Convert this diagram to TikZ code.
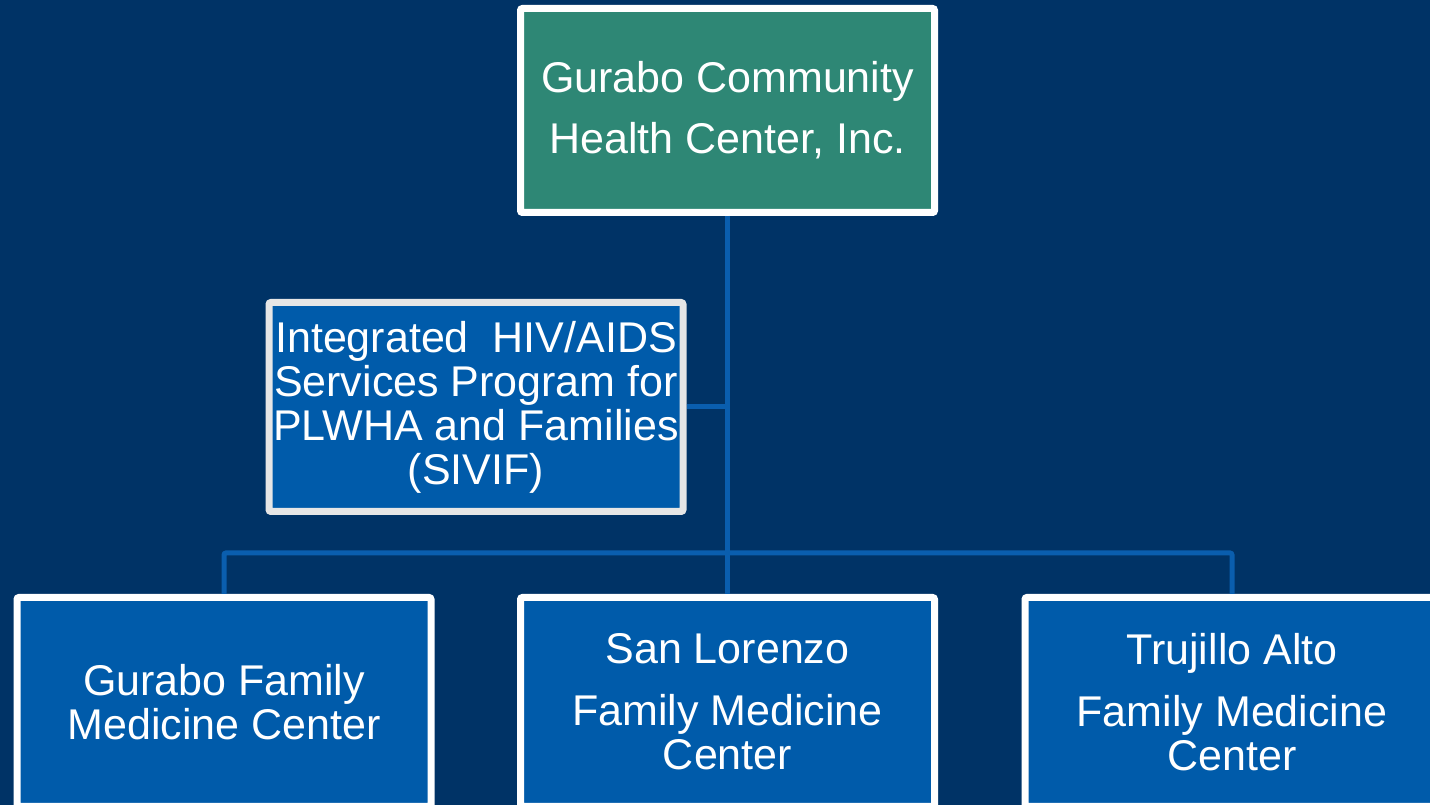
\documentclass[tikz,border=0pt]{standalone}
\usepackage{fontspec}
\setmainfont{Liberation Sans}
\definecolor{navy}{HTML}{003366}
\definecolor{chcteal}{HTML}{2E8775}
\definecolor{progblue}{HTML}{005BAA}
\definecolor{linkblue}{HTML}{0A5EAE}
\definecolor{paleframe}{HTML}{E6E6E6}
\begin{document}
\begin{tikzpicture}[x=1pt, y=1pt,
  box/.style={draw=white, line width=7pt, fill=progblue, text=white, rounded corners=2pt,
    minimum width=414pt, minimum height=209pt, inner sep=0pt, align=center,
    font=\fontsize{43}{44}\selectfont},
  conn/.style={draw=linkblue, line width=5pt, rounded corners=2pt}]
\useasboundingbox (0, 0) rectangle (1430, 805);
\fill[navy] (0, 0) rectangle (1430, 805);
% organisation
\node[box, fill=chcteal, minimum height=204pt] (gchc) at (727.5, 694.5)
  {Gurabo Community\\[17pt]Health Center, Inc.};
\node[box, draw=paleframe] (sivif) at (476, 398)
  {Integrated\ \ HIV/AIDS\\Services Program for\\PLWHA and Families\\(SIVIF)};
% clinics
\node[box] (gurabo) at (224, 103) {Gurabo Family\\Medicine Center};
\node[box] (sanlorenzo) at (727.5, 103) {San Lorenzo\\[18pt]Family Medicine\\Center};
\node[box] (trujillo) at (1232, 103) {Trujillo Alto\\[18pt]Family Medicine\\Center};
% links
\coordinate (bar) at (727.5, 252);
\draw[conn] (gchc.south) -- (bar);
\draw[conn] (sivif.east) -- (sivif.east -| gchc.south);
\draw[conn] (gurabo.north) |- (bar) -| (trujillo.north);
\draw[conn] (bar) -- (sanlorenzo.north);
\end{tikzpicture}
\end{document}
